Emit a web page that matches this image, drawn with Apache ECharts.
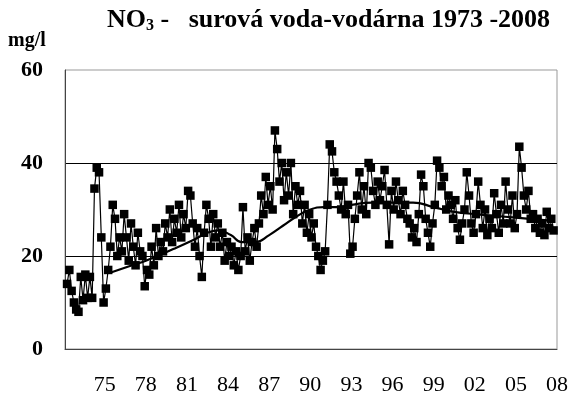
<!DOCTYPE html>
<html>
<head>
<meta charset="utf-8">
<script src="https://cdn.jsdelivr.net/npm/echarts@6/dist/echarts.min.js"></script>
<style>
  html, body { margin: 0; padding: 0; background: #fff; }
  #chart { width: 571px; height: 398px; }
</style>
</head>
<body>
<div id="chart"></div>
<script>
// Nitrate (NO3) in raw water, bimonthly samples starting mid-1972
const sampleStart = 1972.25;
const samplesPerYear = 6;
const no3Values = [
  14, 17, 12.5, 10, 8.5, 8,
  15.5, 10.5, 16, 11, 15.5, 11,
  34.5, 39, 38, 24, 10, 13,
  17, 22, 31, 28, 20, 24,
  21, 29, 24, 19, 27, 22,
  18, 25, 21, 20, 13.5, 17,
  16, 22, 18, 26, 20, 23,
  21, 27, 24, 30, 23, 28,
  25, 31, 24, 29, 26, 34,
  33, 27, 22, 26, 20, 15.5,
  25, 31, 28, 22, 29, 24,
  27, 22, 25, 19, 23, 20,
  22, 18, 21, 17, 20, 30.5,
  21, 24, 19, 23, 26, 22,
  27, 33, 29, 37, 31, 35,
  30, 47, 43, 36, 40, 32,
  38, 33, 40, 29, 35, 31,
  34, 27, 31, 25, 29, 24,
  27, 22, 20, 17, 19, 21,
  31, 44, 42.5, 38, 36, 33,
  30, 36, 29, 31, 20.5, 22,
  28, 33, 38, 30, 35, 29,
  40, 39, 34, 31, 36, 32,
  35, 38.5, 31, 22.5, 34, 30,
  36, 32, 29, 34, 31, 28,
  27, 24, 26, 23, 29, 37.5,
  35, 28, 25, 22, 27, 31,
  40.5, 39, 35, 37, 30, 33,
  31, 28, 32, 26, 23.5, 27,
  30, 38, 33, 27, 25, 29,
  36, 31, 26, 30, 24.5, 28,
  26, 33.5, 29, 25, 31, 27,
  36, 30, 27, 33, 26, 29,
  43.5, 39, 33, 30, 34, 28,
  29, 26, 28, 25, 27, 24.5,
  29.5, 26, 28, 25.5
];

// Smoothed long-term trend
const trendYears = [1975.5, 1977, 1978, 1980, 1981.5, 1982.5, 1983.3, 1984.2, 1985, 1986, 1987, 1988, 1989, 1990, 1991, 1992, 1993, 1994.5, 1996, 1997.5, 1999, 2000.5, 2002, 2004, 2006, 2007.75];
const trendValues = [16.5, 18, 19, 21.5, 23.5, 25, 25.5, 24.5, 23, 23, 24.5, 26.5, 28.5, 30, 30.5, 30.5, 31, 31.5, 31.5, 31.5, 30.5, 29.5, 29, 28.5, 28, 27.5];

// Axis ticks
const xTickYears = [1975, 1978, 1981, 1984, 1987, 1990, 1993, 1996, 1999, 2002, 2005, 2008];
const yTicks = [0, 20, 40, 60];

const titleMain = ' -   surová voda-vodárna 1973 -2008';
const unitLabel = 'mg/l';

const FONT = 'Liberation Serif';

const rawData = no3Values.map((v, i) => [sampleStart + i / samplesPerYear, v]);
const trendData = trendYears.map((y, i) => [y, trendValues[i]]);

const chart = echarts.init(document.getElementById('chart'), null, { renderer: 'canvas' });
chart.setOption({
  animation: false,
  backgroundColor: '#fff',
  graphic: [
    {
      type: 'text',
      left: 107,
      top: 7,
      style: {
        text: '{a|NO}{b|3}{a|' + titleMain + '}',
        rich: {
          a: { fontFamily: FONT, fontSize: 26, fontWeight: 'bold', fill: '#000', lineHeight: 30 },
          b: { fontFamily: FONT, fontSize: 16, fontWeight: 'bold', fill: '#000', lineHeight: 30, padding: [11, 0, 0, 0] }
        }
      }
    },
    {
      type: 'text',
      left: 8,
      top: 31,
      style: { text: unitLabel, fontFamily: FONT, fontSize: 20, fontWeight: 'bold', fill: '#000' }
    }
  ],
  grid: {
    left: 65, right: 12, top: 70, bottom: 49,
    show: true, borderColor: '#999', borderWidth: 1, backgroundColor: 'transparent'
  },
  xAxis: {
    type: 'value',
    min: 1972.1,
    max: 2008,
    axisLine: { show: true, lineStyle: { color: '#444', width: 1 } },
    axisTick: { show: false },
    splitLine: { show: false },
    axisLabel: {
      customValues: xTickYears,
      margin: 25,
      fontFamily: FONT,
      fontSize: 22,
      color: '#000',
      formatter: v => String(Math.round(v) % 100).padStart(2, '0')
    }
  },
  yAxis: {
    type: 'value',
    min: yTicks[0],
    max: yTicks[yTicks.length - 1],
    interval: 20,
    axisLine: { show: true, lineStyle: { color: '#444', width: 1 } },
    axisTick: { show: false },
    splitLine: { show: true, showMinLine: false, showMaxLine: false, lineStyle: { color: '#000', width: 1 } },
    axisLabel: {
      margin: 22,
      fontFamily: FONT,
      fontSize: 22,
      fontWeight: 'bold',
      color: '#000'
    }
  },
  series: [
    {
      type: 'line',
      data: rawData,
      symbol: 'rect',
      symbolSize: 8.5,
      showAllSymbol: true,
      lineStyle: { color: '#000', width: 1.2 },
      itemStyle: { color: '#000' },
      z: 2
    },
    {
      type: 'line',
      data: trendData,
      smooth: 0.5,
      symbol: 'none',
      lineStyle: { color: '#000', width: 2.2 },
      z: 3
    }
  ]
});
</script>
</body>
</html>
